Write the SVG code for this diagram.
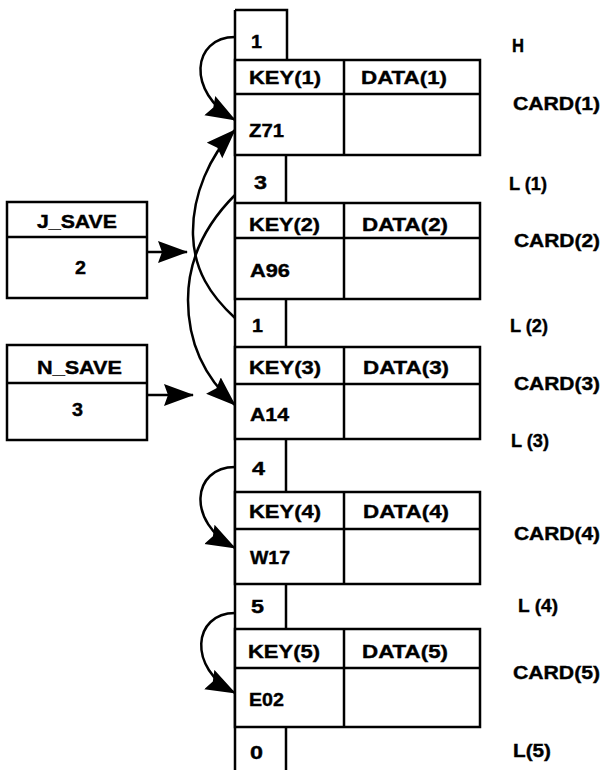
<svg xmlns="http://www.w3.org/2000/svg" width="609" height="770" viewBox="0 0 609 770">
<style>
text{font-family:"Liberation Sans",Arial,sans-serif;font-weight:bold;font-size:19px;fill:#000;stroke:#000;stroke-width:0.4}
.ln{stroke:#000;stroke-width:2.5;fill:none}
.box{stroke:#000;stroke-width:2.5;fill:#fff}
.arr{stroke:#000;stroke-width:2.5;fill:none;marker-end:url(#ah)}
</style>
<defs>
<marker id="ah" markerUnits="userSpaceOnUse" markerWidth="32" markerHeight="24" refX="29" refY="11" orient="auto">
<path d="M0,0 L30,11 L0,22 L4,11 z" fill="#000"/>
</marker>
</defs>
<rect width="609" height="770" fill="#fff"/>

<g id="links">
<line class="ln" x1="235" y1="10" x2="235" y2="770"/>
<polyline class="ln" points="235,10 287,10 287,60"/>
<line class="ln" x1="286" y1="155" x2="286" y2="203"/>
<line class="ln" x1="286" y1="299" x2="286" y2="347"/>
<line class="ln" x1="286" y1="439" x2="286" y2="492"/>
<line class="ln" x1="286" y1="584" x2="286" y2="629"/>
<line class="ln" x1="286" y1="727" x2="286" y2="770"/>
<text x="251" y="48" textLength="11" lengthAdjust="spacingAndGlyphs">1</text>
<text x="254" y="189" textLength="13" lengthAdjust="spacingAndGlyphs">3</text>
<text x="252" y="332" textLength="11" lengthAdjust="spacingAndGlyphs">1</text>
<text x="252" y="475" textLength="13" lengthAdjust="spacingAndGlyphs">4</text>
<text x="251" y="613" textLength="13" lengthAdjust="spacingAndGlyphs">5</text>
<text x="250" y="759" textLength="13" lengthAdjust="spacingAndGlyphs">0</text>
</g>

<g id="card1">
<rect class="box" x="235" y="60" width="245" height="95"/>
<line class="ln" x1="235" y1="94" x2="480" y2="94"/>
<line class="ln" x1="344" y1="60" x2="344" y2="155"/>
<text x="249" y="84" textLength="72" lengthAdjust="spacingAndGlyphs">KEY(1)</text>
<text x="361" y="84" textLength="86" lengthAdjust="spacingAndGlyphs">DATA(1)</text>
<text x="249" y="137" textLength="35" lengthAdjust="spacingAndGlyphs">Z71</text>
</g>
<g id="card2">
<rect class="box" x="235" y="203" width="245" height="96"/>
<line class="ln" x1="235" y1="238" x2="480" y2="238"/>
<line class="ln" x1="344" y1="203" x2="344" y2="299"/>
<text x="249" y="231" textLength="71" lengthAdjust="spacingAndGlyphs">KEY(2)</text>
<text x="362" y="231" textLength="86" lengthAdjust="spacingAndGlyphs">DATA(2)</text>
<text x="250" y="277" textLength="40" lengthAdjust="spacingAndGlyphs">A96</text>
</g>
<g id="card3">
<rect class="box" x="235" y="347" width="245" height="92"/>
<line class="ln" x1="235" y1="384" x2="480" y2="384"/>
<line class="ln" x1="344" y1="347" x2="344" y2="439"/>
<text x="249" y="374" textLength="72" lengthAdjust="spacingAndGlyphs">KEY(3)</text>
<text x="363" y="374" textLength="86" lengthAdjust="spacingAndGlyphs">DATA(3)</text>
<text x="250" y="421" textLength="39" lengthAdjust="spacingAndGlyphs">A14</text>
</g>
<g id="card4">
<rect class="box" x="235" y="492" width="245" height="92"/>
<line class="ln" x1="235" y1="529" x2="480" y2="529"/>
<line class="ln" x1="344" y1="492" x2="344" y2="584"/>
<text x="249" y="518" textLength="72" lengthAdjust="spacingAndGlyphs">KEY(4)</text>
<text x="363" y="518" textLength="86" lengthAdjust="spacingAndGlyphs">DATA(4)</text>
<text x="250" y="564" textLength="40" lengthAdjust="spacingAndGlyphs">W17</text>
</g>
<g id="card5">
<rect class="box" x="235" y="629" width="245" height="98"/>
<line class="ln" x1="235" y1="668" x2="480" y2="668"/>
<line class="ln" x1="344" y1="629" x2="344" y2="727"/>
<text x="248" y="658" textLength="72" lengthAdjust="spacingAndGlyphs">KEY(5)</text>
<text x="362" y="658" textLength="86" lengthAdjust="spacingAndGlyphs">DATA(5)</text>
<text x="249" y="706" textLength="35" lengthAdjust="spacingAndGlyphs">E02</text>
</g>

<g id="jsave">
<rect class="box" x="7" y="202" width="140" height="96"/>
<line class="ln" x1="7" y1="237" x2="147" y2="237"/>
<text x="37" y="228" textLength="80" lengthAdjust="spacingAndGlyphs">J_SAVE</text>
<text x="75" y="274" textLength="11" lengthAdjust="spacingAndGlyphs">2</text>
</g>
<g id="nsave">
<rect class="box" x="7" y="345" width="140" height="95"/>
<line class="ln" x1="7" y1="383" x2="147" y2="383"/>
<text x="37" y="374" textLength="85" lengthAdjust="spacingAndGlyphs">N_SAVE</text>
<text x="72" y="416" textLength="11" lengthAdjust="spacingAndGlyphs">3</text>
</g>

<g id="labels">
<text x="512" y="52" textLength="12" lengthAdjust="spacingAndGlyphs">H</text>
<text x="513" y="110" textLength="87" lengthAdjust="spacingAndGlyphs">CARD(1)</text>
<text x="509" y="190" textLength="38" lengthAdjust="spacingAndGlyphs">L (1)</text>
<text x="514" y="247" textLength="86" lengthAdjust="spacingAndGlyphs">CARD(2)</text>
<text x="510" y="332" textLength="38" lengthAdjust="spacingAndGlyphs">L (2)</text>
<text x="514" y="390" textLength="86" lengthAdjust="spacingAndGlyphs">CARD(3)</text>
<text x="511" y="447" textLength="38" lengthAdjust="spacingAndGlyphs">L (3)</text>
<text x="514" y="540" textLength="86" lengthAdjust="spacingAndGlyphs">CARD(4)</text>
<text x="518" y="612" textLength="40" lengthAdjust="spacingAndGlyphs">L (4)</text>
<text x="513" y="679" textLength="87" lengthAdjust="spacingAndGlyphs">CARD(5)</text>
<text x="513" y="757" textLength="38" lengthAdjust="spacingAndGlyphs">L(5)</text>
</g>

<g id="connectors">
<path class="arr" d="M235,37 C192,37 186,92 235,120"/>
<path class="arr" d="M235,195 C210,220 188,255 188,300 C188,345 205,378 235,405"/>
<path class="arr" d="M235,318 C210,295 194,270 193,235 C192,195 210,155 235,130"/>
<path class="arr" d="M235,467 C192,467 186,522 235,548"/>
<path class="arr" d="M235,613 C193,613 187,668 235,693"/>
<path class="arr" d="M147,252 L187,252"/>
<path class="arr" d="M147,395 L193,395"/>
</g>
</svg>
